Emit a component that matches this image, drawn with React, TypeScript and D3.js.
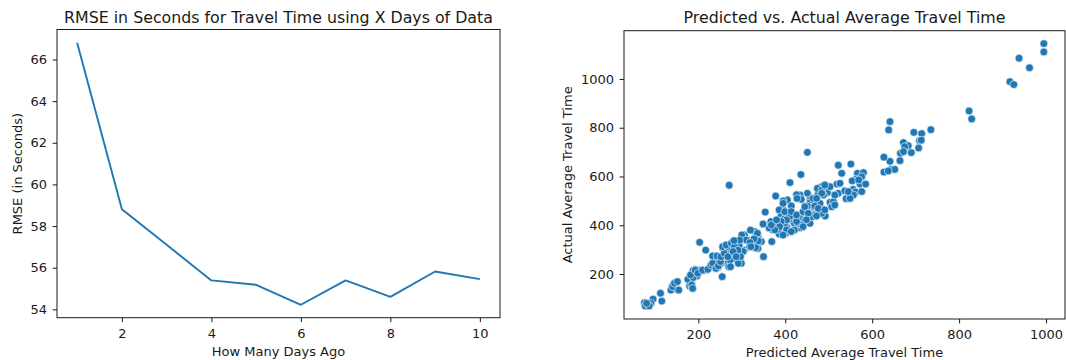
import { useEffect, useRef } from 'react'
import * as d3 from 'd3'

const W = 1066
const H = 360
const FONT = '"DejaVu Sans", sans-serif'
const BLUE = '#1f77b4'
const INK = '#1a1a1a'

// Left panel: RMSE by number of days of history
const daysAgo = [1, 2, 3, 4, 5, 6, 7, 8, 9, 10]
const rmse = [66.8, 58.81, 57.1, 55.39, 55.18, 54.22, 55.39, 54.6, 55.82, 55.45]
const dayTicks = [2, 4, 6, 8, 10]
const rmseTicks = [54, 56, 58, 60, 62, 64, 66]

// Right panel: predicted vs actual average travel time
const predicted = [
  995, 995, 938, 962, 917, 926, 823, 829, 641, 638, 735, 696, 714, 672, 683, 675, 709, 713, 707, 690,
  665, 672, 664, 641, 627, 643, 652, 627, 637,
  451, 522, 551, 530, 436, 566, 572, 562, 554, 519, 494, 484, 497, 522, 537, 556, 562, 540, 551, 503,
  507, 492, 469, 471, 475, 451, 457, 474, 434, 426, 411, 437, 427, 457, 465, 484, 467, 478, 457, 444,
  440, 434, 421, 421, 413, 405, 395, 378, 396, 386, 390, 398, 409, 404, 401, 386, 398, 375, 367, 382,
  384, 371, 363, 354, 349, 369, 421, 429, 433, 451, 440,
  395, 414, 464, 484, 488, 480, 468, 476, 484, 461, 445, 437, 426, 410, 403, 391, 387, 403, 414, 395,
  376, 368, 380, 399, 414, 426, 441, 445,
  330, 337, 326, 314, 306, 299, 283, 295, 306, 287, 276, 264, 260, 272, 283, 268, 299, 318, 337, 345, 330,
  580, 576, 569, 585, 576, 557, 549, 545, 526, 503, 491, 484, 472, 476, 453, 449, 472, 511, 514, 514,
  491, 441,
  271, 203, 217, 320, 300, 310, 290, 278, 336, 338, 328, 319, 332, 321, 303, 289, 279, 267, 256, 259,
  237, 245, 233, 228, 246, 252, 267, 270, 292, 273, 255, 202, 192, 188, 197, 180, 176, 180, 185, 188,
  218, 211, 149, 140, 137, 151, 113, 116, 96, 91, 76, 78, 85, 350, 294, 267, 297,
  87, 81, 141, 145, 152, 155, 185, 187, 182, 193, 199, 210, 222, 229, 233, 241, 246, 251, 233, 243,
  252, 260, 268, 274, 256, 264, 276, 283, 291, 280, 287, 295, 282,
]
const actual = [
  1145, 1111, 1085, 1046, 989, 977, 869, 836, 825, 791, 792, 781, 776, 739, 726, 722, 747, 749, 717, 698,
  695, 702, 665, 662, 679, 629, 629, 618, 623,
  699, 646, 651, 613, 608, 613, 569, 588, 582, 569, 558, 558, 534, 531, 541, 547, 536, 509, 517, 494,
  476, 438, 469, 490, 524, 531, 504, 551, 524, 525, 575, 506, 510, 493, 476, 468, 442, 449, 408, 446,
  424, 390, 435, 408, 449, 504, 500, 520, 463, 463, 435, 426, 424, 391, 367, 364, 400, 394, 415, 411,
  383, 381, 389, 454, 405, 333, 380, 408, 442, 479, 428,
  490, 479, 510, 545, 524, 490, 479, 463, 449, 435, 422, 401, 415, 435, 422, 415, 394, 381, 374, 360,
  381, 401, 422, 456, 456, 442, 456, 476,
  374, 353, 339, 339, 360, 346, 333, 312, 298, 292, 305, 298, 278, 264, 264, 244, 244, 312, 305, 333, 319,
  616, 599, 586, 569, 538, 524, 510, 538, 572, 558, 565, 531, 510, 469, 449, 422, 438, 497, 483, 524,
  463, 394,
  564, 330, 298, 380, 360, 339, 333, 330, 367, 335, 344, 329, 308, 312, 292, 305, 282, 296, 308, 274,
  271, 264, 237, 230, 230, 244, 271, 230, 244, 257, 189, 216, 219, 214, 192, 175, 178, 151, 148, 185,
  216, 214, 164, 151, 134, 137, 121, 89, 97, 80, 82, 69, 73, 271, 319, 312, 271,
  69, 80, 148, 162, 169, 134, 155, 141, 196, 216, 203, 216, 219, 237, 244, 223, 233, 251, 274, 274,
  271, 285, 271, 230, 312, 319, 326, 312, 298, 292, 271, 339, 337,
]
const travelTicks = [200, 400, 600, 800, 1000]

const TICK_FS = 13
const TITLE_FS = 15.8

function styleAxis(ax) {
  ax.select('.domain').remove()
  ax.selectAll('line').attr('stroke', INK).attr('stroke-width', 1)
  ax.selectAll('text')
    .attr('font-size', TICK_FS)
    .attr('fill', INK)
    .attr('font-family', FONT)
}

export default function App() {
  const svgRef = useRef(null)

  useEffect(() => {
    const svg = d3.select(svgRef.current)
    svg.selectAll('*').remove()
    const fmt = d3.format('d')

    // ---- left panel ----
    const L = { x0: 57, x1: 500, y0: 29.5, y1: 317.7 }
    const xL = d3.scaleLinear().domain([0.55, 10.45]).range([L.x0, L.x1])
    const yL = d3.scaleLinear().domain([53.6, 67.44]).range([L.y1, L.y0])

    const line = d3.line()
      .x((_, i) => xL(daysAgo[i]))
      .y(d => yL(d))

    svg.append('path')
      .datum(rmse)
      .attr('fill', 'none')
      .attr('stroke', BLUE)
      .attr('stroke-width', 1.9)
      .attr('stroke-linejoin', 'round')
      .attr('d', line)

    svg.append('g')
      .attr('transform', `translate(0,${L.y1})`)
      .call(d3.axisBottom(xL).tickValues(dayTicks).tickFormat(fmt).tickSize(4.4).tickPadding(6.5))
      .call(styleAxis)
    svg.append('g')
      .attr('transform', `translate(${L.x0},0)`)
      .call(d3.axisLeft(yL).tickValues(rmseTicks).tickFormat(fmt).tickSize(4.4).tickPadding(5.5))
      .call(styleAxis)

    svg.append('rect')
      .attr('x', L.x0).attr('y', L.y0)
      .attr('width', L.x1 - L.x0).attr('height', L.y1 - L.y0)
      .attr('fill', 'none').attr('stroke', INK).attr('stroke-width', 1)

    svg.append('text')
      .attr('x', (L.x0 + L.x1) / 2).attr('y', 23)
      .attr('text-anchor', 'middle').attr('font-size', TITLE_FS).attr('fill', INK)
      .attr('font-family', FONT)
      .text('RMSE in Seconds for Travel Time using X Days of Data')
    svg.append('text')
      .attr('x', (L.x0 + L.x1) / 2).attr('y', 356)
      .attr('text-anchor', 'middle').attr('font-size', TICK_FS).attr('fill', INK)
      .attr('font-family', FONT)
      .text('How Many Days Ago')
    svg.append('text')
      .attr('transform', `translate(21.5,${(L.y0 + L.y1) / 2}) rotate(-90)`)
      .attr('text-anchor', 'middle').attr('font-size', TICK_FS).attr('fill', INK)
      .attr('font-family', FONT)
      .text('RMSE (in Seconds)')

    // ---- right panel ----
    const R = { x0: 624, x1: 1065, y0: 30.7, y1: 319 }
    const xR = d3.scaleLinear().domain([29, 1043.7]).range([R.x0, R.x1])
    const yR = d3.scaleLinear().domain([15.4, 1198]).range([R.y1, R.y0])

    svg.append('g')
      .selectAll('circle')
      .data(predicted)
      .join('circle')
      .attr('cx', d => xR(d))
      .attr('cy', (_, i) => yR(actual[i]))
      .attr('r', 3.9)
      .attr('fill', BLUE)
      .attr('stroke', '#fff')
      .attr('stroke-width', 0.6)

    svg.append('g')
      .attr('transform', `translate(0,${R.y1})`)
      .call(d3.axisBottom(xR).tickValues(travelTicks).tickFormat(fmt).tickSize(4.4).tickPadding(6.5))
      .call(styleAxis)
    svg.append('g')
      .attr('transform', `translate(${R.x0},0)`)
      .call(d3.axisLeft(yR).tickValues(travelTicks).tickFormat(fmt).tickSize(4.4).tickPadding(5.5))
      .call(styleAxis)

    svg.append('rect')
      .attr('x', R.x0).attr('y', R.y0)
      .attr('width', R.x1 - R.x0).attr('height', R.y1 - R.y0)
      .attr('fill', 'none').attr('stroke', INK).attr('stroke-width', 1)

    svg.append('text')
      .attr('x', (R.x0 + R.x1) / 2).attr('y', 23)
      .attr('text-anchor', 'middle').attr('font-size', TITLE_FS).attr('fill', INK)
      .attr('font-family', FONT)
      .text('Predicted vs. Actual Average Travel Time')
    svg.append('text')
      .attr('x', (R.x0 + R.x1) / 2).attr('y', 357)
      .attr('text-anchor', 'middle').attr('font-size', TICK_FS).attr('fill', INK)
      .attr('font-family', FONT)
      .text('Predicted Average Travel Time')
    svg.append('text')
      .attr('transform', `translate(571.5,${(R.y0 + R.y1) / 2}) rotate(-90)`)
      .attr('text-anchor', 'middle').attr('font-size', TICK_FS).attr('fill', INK)
      .attr('font-family', FONT)
      .text('Actual Average Travel Time')
  }, [])

  return (
    <svg
      ref={svgRef}
      width={W}
      height={H}
      style={{ position: 'absolute', left: 0, top: 0, background: '#fff', display: 'block' }}
    />
  )
}
